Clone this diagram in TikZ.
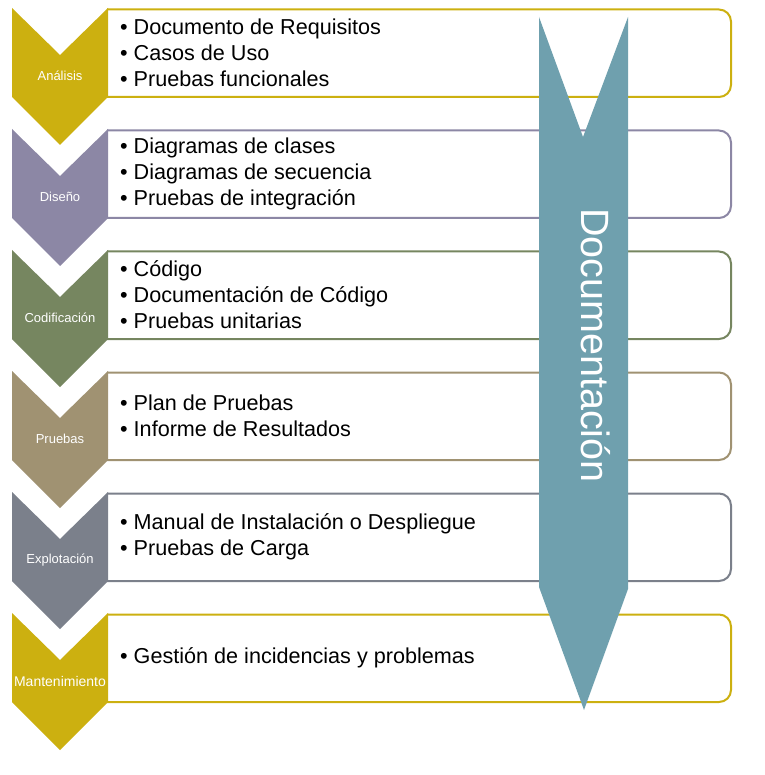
\documentclass[tikz,border=0pt]{standalone}
\usepackage{fontspec}
\setmainfont{Liberation Sans}

\definecolor{analisis}{HTML}{CCB010}
\definecolor{diseno}{HTML}{8C87A5}
\definecolor{codif}{HTML}{768660}
\definecolor{pruebas}{HTML}{A09272}
\definecolor{explot}{HTML}{7B808B}
\definecolor{docu}{HTML}{6FA0AE}

\tikzstyle{caja} = [rounded corners=12pt, line width=2pt, fill=white]
\tikzstyle{fase} = [text=white, font=\fontsize{13}{15}\selectfont]
\tikzstyle{lista} = [anchor=west, align=left, inner sep=0pt, font=\fontsize{21.6}{26}\selectfont]
\tikzstyle{titulo} = [rotate=-90, anchor=base west, inner sep=0pt, text=white, font=\fontsize{39.5}{40}\selectfont]

\begin{document}
\begin{tikzpicture}[x=1pt,y=-1pt]
      \useasboundingbox (0,0) rectangle (764,775);

      % cajas
      \begin{scope}
      \clip (107,0) rectangle (764,775);
      \draw[caja, draw=analisis] (90,9.5) rectangle (731,97);
      \draw[caja, draw=diseno] (90,130.5) rectangle (731,218);
      \draw[caja, draw=codif] (90,251.5) rectangle (731,339);
      \draw[caja, draw=pruebas] (90,372.5) rectangle (731,460);
      \draw[caja, draw=explot] (90,493.5) rectangle (731,581);
      \draw[caja, draw=analisis] (90,614.5) rectangle (731,702);
      \end{scope}

      % flechas de fase
      \fill[analisis] (12,8) -- ++(48,47) -- ++(48,-47) -- ++(0,89) -- ++(-48,48) -- ++(-48,-48) -- cycle;
      \fill[diseno] (12,129) -- ++(48,47) -- ++(48,-47) -- ++(0,89) -- ++(-48,48) -- ++(-48,-48) -- cycle;
      \fill[codif] (12,250) -- ++(48,47) -- ++(48,-47) -- ++(0,89) -- ++(-48,48) -- ++(-48,-48) -- cycle;
      \fill[pruebas] (12,371) -- ++(48,47) -- ++(48,-47) -- ++(0,89) -- ++(-48,48) -- ++(-48,-48) -- cycle;
      \fill[explot] (12,492) -- ++(48,47) -- ++(48,-47) -- ++(0,89) -- ++(-48,48) -- ++(-48,-48) -- cycle;
      \fill[analisis] (12,613) -- ++(48,47) -- ++(48,-47) -- ++(0,89) -- ++(-48,48) -- ++(-48,-48) -- cycle;

      \node (ana) [fase] at (60,76) {Análisis};
      \node (dis) [fase] at (60,197) {Diseño};
      \node (cod) [fase] at (60,318) {Codificación};
      \node (pru) [fase] at (60,439) {Pruebas};
      \node (exp) [fase] at (60,560) {Explotación};
      \node (man) [fase, font=\fontsize{14}{16}\selectfont] at (60,681) {Mantenimiento};

      \node (anal) [lista] at (120,53) {\textbullet\ Documento de Requisitos\\\textbullet\ Casos de Uso\\\textbullet\ Pruebas funcionales};
      \node (disl) [lista] at (120,174) {\textbullet\ Diagramas de clases\\\textbullet\ Diagramas de secuencia\\\textbullet\ Pruebas de integración};
      \node (codl) [lista] at (120,295) {\textbullet\ Código\\\textbullet\ Documentación de Código\\\textbullet\ Pruebas unitarias};
      \node (prul) [lista] at (120,416) {\textbullet\ Plan de Pruebas\\\textbullet\ Informe de Resultados};
      \node (expl) [lista] at (120,537) {\textbullet\ Manual de Instalación o Despliegue\\\textbullet\ Pruebas de Carga};
      \node (manl) [lista] at (120,658) {\textbullet\ Gestión de incidencias y problemas};

      % documentacion
      \fill[docu] (539,17) -- (583,137) -- (628,17) -- (628,589) -- (584,710) -- (539,587) -- cycle;
      \node (doc) [titulo] at (581,208) {Documentación};
\end{tikzpicture}
\end{document}
